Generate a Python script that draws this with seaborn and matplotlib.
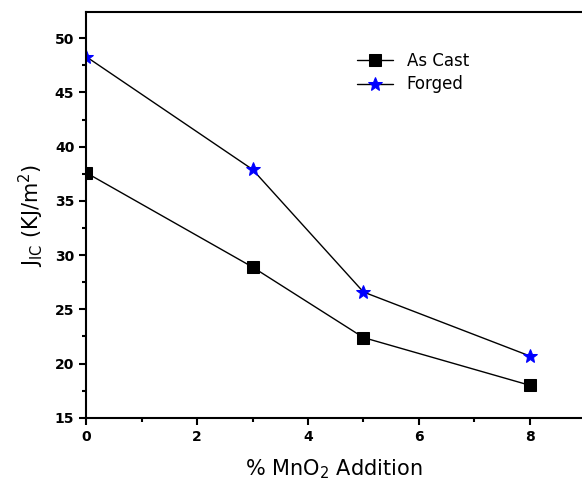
import matplotlib
matplotlib.use("Agg")
import matplotlib.pyplot as plt
import seaborn as sns
import pandas as pd
from matplotlib.ticker import MultipleLocator

mno2 = [0, 3, 5, 8]
as_cast = [37.6, 28.9, 22.4, 18.0]
forged = [48.3, 37.9, 26.6, 20.7]

df = pd.DataFrame({
    "x": mno2 * 2,
    "y": as_cast + forged,
    "series": ["As Cast"] * 4 + ["Forged"] * 4,
})

sns.set_style("white")
plt.rcParams["font.family"] = ["DejaVu Sans"]
plt.rcParams["text.color"] = "black"
plt.rcParams["axes.labelcolor"] = "black"
plt.rcParams["xtick.color"] = "black"
plt.rcParams["ytick.color"] = "black"

fig = plt.figure(figsize=(5.82, 4.87), dpi=100)
ax = fig.add_axes([0.148, 0.142, 0.852, 0.833])

sns.lineplot(data=df[df.series == "As Cast"], x="x", y="y", ax=ax,
             color="black", linewidth=1.0, marker="s", markersize=8,
             markerfacecolor="black", markeredgecolor="black", label="As Cast")
sns.lineplot(data=df[df.series == "Forged"], x="x", y="y", ax=ax,
             color="black", linewidth=1.0, marker="*", markersize=10,
             markerfacecolor="blue", markeredgecolor="blue", label="Forged")

ax.set_xlim(0, 8.94)
ax.set_ylim(15, 52.4)
ax.xaxis.set_major_locator(MultipleLocator(2))
ax.xaxis.set_minor_locator(MultipleLocator(1))
ax.yaxis.set_major_locator(MultipleLocator(5))
ax.yaxis.set_minor_locator(MultipleLocator(2.5))
ax.tick_params(axis="both", which="major", direction="out", length=5, width=1.5,
               color="black", labelcolor="black", labelsize=10)
ax.tick_params(axis="both", which="minor", direction="out", length=3, width=1.5,
               color="black")
ax.tick_params(bottom=True, left=True, which="both")
for lab in ax.get_xticklabels() + ax.get_yticklabels():
    lab.set_fontweight("bold")

for side in ["left", "bottom", "top"]:
    ax.spines[side].set_visible(True)
    ax.spines[side].set_color("black")
    ax.spines[side].set_linewidth(1.5)
ax.spines["right"].set_visible(False)

ax.set_xlabel("% MnO$_2$ Addition", fontsize=15, labelpad=10, color="black")
ax.set_ylabel("J$_{\\mathregular{IC}}$ (KJ/m$^2$)", fontsize=15, labelpad=6, color="black")

leg = ax.legend(loc="upper left", bbox_to_anchor=(0.515, 0.94), frameon=False,
                fontsize=12, handlelength=2.2, labelspacing=0.35)
for t in leg.get_texts():
    t.set_color("black")

fig.savefig("out.png", dpi=100)
